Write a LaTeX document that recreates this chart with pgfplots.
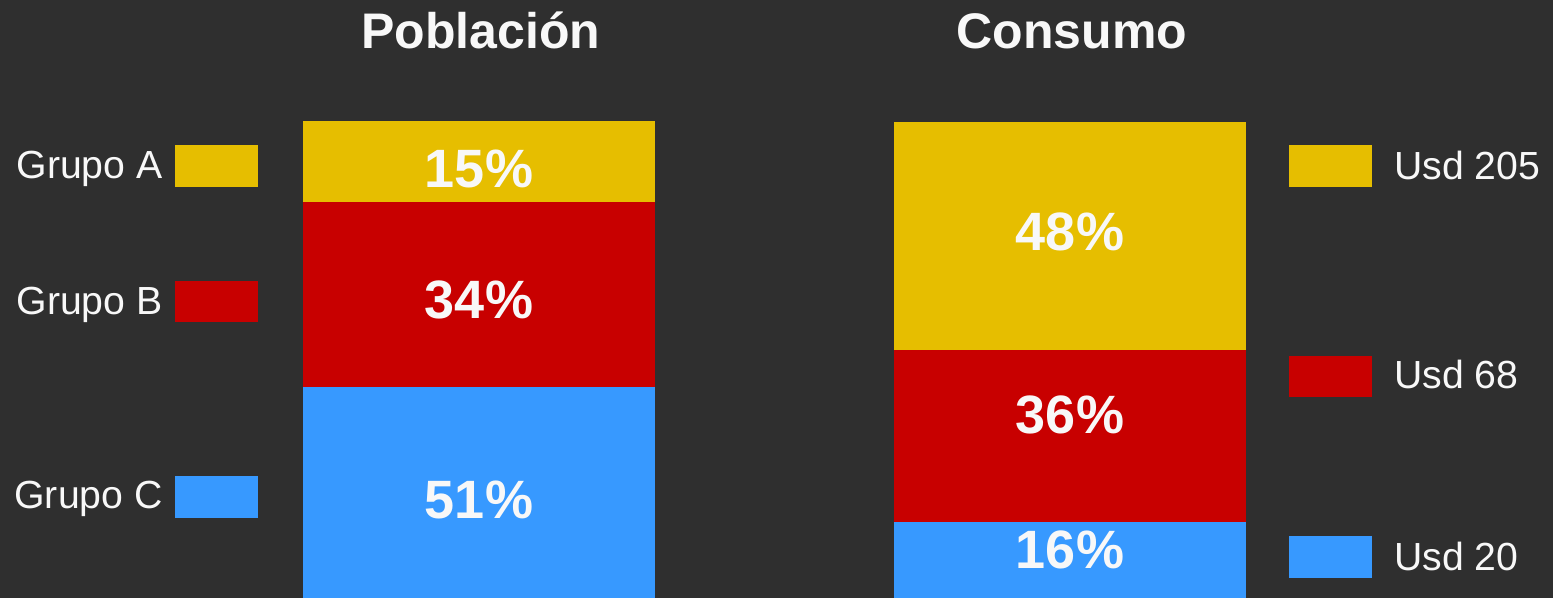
\documentclass[border=0pt]{standalone}
\usepackage{fontspec}
\setmainfont{Liberation Sans}
\usepackage{pgfplots}
\pgfplotsset{compat=1.18}
\definecolor{bg}{HTML}{2F2F2F}
\definecolor{cyellow}{HTML}{E6BE00}
\definecolor{cred}{HTML}{C80000}
\definecolor{cblue}{HTML}{3799FF}
\definecolor{txt}{HTML}{F8F8F8}
\begin{document}
\begin{tikzpicture}
\fill[bg] (0pt,0pt) rectangle (776.5pt,299pt);
% Poblacion
\begin{axis}[at={(151.5pt,0pt)}, anchor=south west, width=176pt, height=238.5pt,
  scale only axis, xmin=-0.5, xmax=0.5, ymin=12, ymax=100, hide axis,
  ybar stacked, bar width=176pt, clip=true]
\addplot[fill=cblue, draw=none] coordinates {(0,51)};
\addplot[fill=cred, draw=none] coordinates {(0,34)};
\addplot[fill=cyellow, draw=none] coordinates {(0,15)};
\coordinate (pA) at (axis cs:0,91.2);
\coordinate (pB) at (axis cs:0,67);
\coordinate (pC) at (axis cs:0,30);
\end{axis}
% Consumo
\begin{axis}[at={(447pt,0pt)}, anchor=south west, width=176pt, height=238pt,
  scale only axis, xmin=-0.5, xmax=0.5, ymin=0, ymax=100, hide axis,
  ybar stacked, bar width=176pt, clip=true]
\addplot[fill=cblue, draw=none] coordinates {(0,16)};
\addplot[fill=cred, draw=none] coordinates {(0,36)};
\addplot[fill=cyellow, draw=none] coordinates {(0,48)};
\coordinate (cA) at (axis cs:0,77);
\coordinate (cB) at (axis cs:0,38.5);
\coordinate (cC) at (axis cs:0,10);
\end{axis}
\tikzset{pct/.style={txt, font=\bfseries\fontsize{27}{30}\selectfont}}
\node[pct] at (pA) {15\%};
\node[pct] at (pB) {34\%};
\node[pct] at (pC) {51\%};
\node[pct] at (cA) {48\%};
\node[pct] at (cB) {36\%};
\node[pct] at (cC) {16\%};
% titles
\node[txt, anchor=base, inner sep=0pt, font=\bfseries\fontsize{25}{30}\selectfont] at (240.5pt,274.5pt) {Población};
\node[txt, anchor=base, inner sep=0pt, font=\bfseries\fontsize{25}{30}\selectfont] at (536pt,274.5pt) {Consumo};
% left legend
\fill[cyellow] (87.5pt,205.5pt) rectangle (129pt,226.5pt);
\fill[cred] (87.5pt,138pt) rectangle (129pt,158.5pt);
\fill[cblue] (87.5pt,40pt) rectangle (129pt,61pt);
\tikzset{leg/.style={txt, inner sep=0pt, font=\fontsize{19.6}{24}\selectfont}}
\node[leg, anchor=base east] at (81.5pt,209.5pt) {Grupo A};
\node[leg, anchor=base east] at (81.5pt,141.5pt) {Grupo B};
\node[leg, anchor=base east] at (81.5pt,44.5pt) {Grupo C};
% right legend
\fill[cyellow] (644.5pt,205.5pt) rectangle (686pt,226.5pt);
\fill[cred] (644.5pt,100.5pt) rectangle (686pt,121pt);
\fill[cblue] (644.5pt,10pt) rectangle (686pt,31pt);
\node[leg, anchor=base west] at (697pt,209pt) {Usd 205};
\node[leg, anchor=base west] at (697pt,104.5pt) {Usd 68};
\node[leg, anchor=base west] at (697pt,13.5pt) {Usd 20};
\pgfresetboundingbox
\useasboundingbox (0pt,0pt) rectangle (776.5pt,299pt);
\end{tikzpicture}
\end{document}
